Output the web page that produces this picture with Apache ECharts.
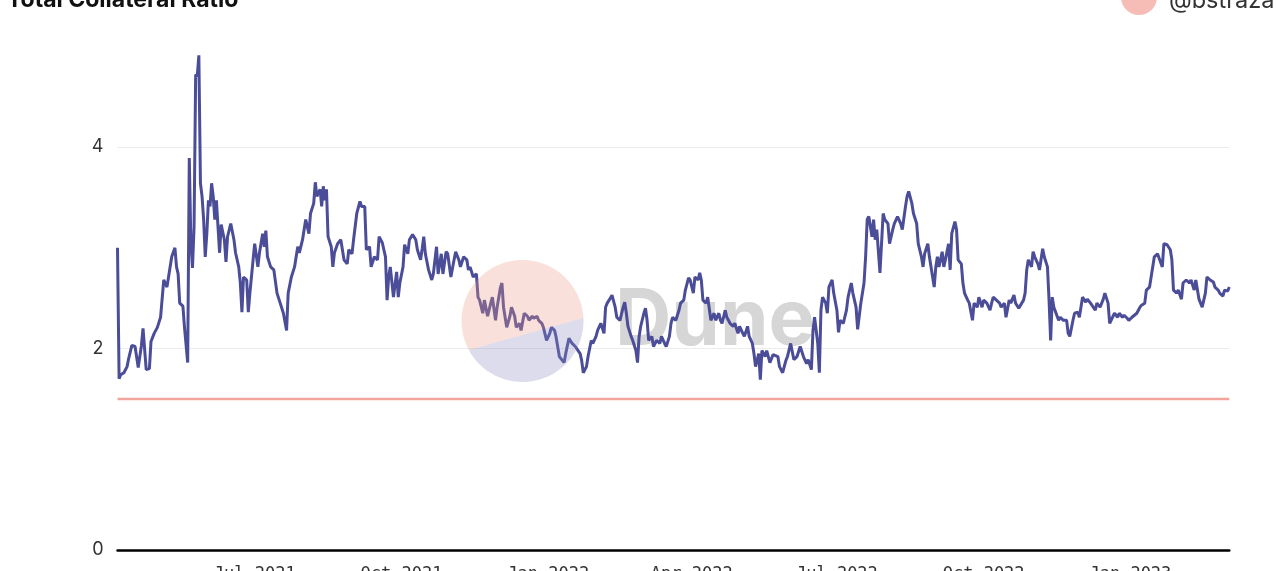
<!DOCTYPE html>
<html>
<head>
<meta charset="utf-8">
<script src="https://cdn.jsdelivr.net/npm/echarts@6/dist/echarts.min.js"></script>
<style>
  html, body { margin: 0; padding: 0; background: #fff; }
  #chart { width: 1280px; height: 571px; }
</style>
</head>
<body>
<div id="chart"></div>
<script>
// ---- data ----
const START_DATE = '2021-04-06';
const days = [0,1,2,4,6,7,9,11,13,15,16,18,20,21,23,25,27,29,31,32,34,36,37,38,39,41,42,44,45,46,47,48,49,50,51,52,53,54,55,56,57,58,59,60,61,62,63,64,65,67,68,69,71,73,74,76,77,78,79,81,82,83,85,86,88,89,91,92,93,94,96,98,100,102,104,106,107,109,111,113,114,116,118,120,121,123,124,125,127,128,129,130,131,132,134,135,136,138,140,142,144,145,147,148,150,152,153,155,156,158,159,161,163,164,166,168,169,170,171,173,175,176,177,179,180,182,183,185,187,188,190,191,192,193,195,197,198,200,201,203,204,206,207,209,211,212,214,215,217,219,220,221,223,225,226,227,229,230,232,234,235,237,238,240,241,242,244,246,247,249,250,252,253,255,257,258,260,261,263,264,266,267,269,271,272,274,275,277,280,281,283,285,287,290,291,292,294,295,297,298,300,301,303,305,306,307,309,310,312,313,315,317,318,319,320,322,323,325,326,327,328,330,331,332,333,335,336,338,340,341,343,344,346,347,348,350,352,353,355,356,358,359,361,362,364,365,366,367,369,370,372,374,375,377,378,379,381,382,384,386,387,389,390,392,393,395,396,398,399,400,402,403,404,406,407,409,411,412,414,415,417,419,420,422,424,426,428,430,432,433,435,436,437,439,440,441,442,444,445,446,448,449,451,452,453,455,457,458,460,461,463,464,466,468,469,470,471,473,474,475,476,478,480,481,483,484,486,487,489,491,492,494,495,496,498,499,501,502,504,505,506,508,509,511,512,513,514,515,517,518,519,521,522,523,525,526,527,529,530,531,533,534,536,537,539,540,542,543,545,547,548,549,551,553,554,556,557,559,560,562,563,565,568,569,570,571,573,574,575,577,578,580,581,583,584,585,586,587,588,590,591,593,595,596,597,599,600,602,603,605,607,608,610,611,613,614,616,618,619,621,622,623,625,627,628,630,631,633,634,636,637,639,641,642,644,645,647,648,650,652,653,655,656,658,660,661,662,664,665,667,668,670,672,673,675,676,678,679,680,682,683,685,687,688,690,691,693,694,696,697];
const ratio = [3.00,1.70,1.74,1.76,1.82,1.90,2.03,2.02,1.81,2.03,2.20,1.79,1.80,2.07,2.15,2.21,2.31,2.68,2.61,2.71,2.91,3.00,2.81,2.74,2.45,2.42,2.21,1.86,3.89,3.05,2.80,3.21,4.72,4.70,4.91,3.64,3.51,3.28,2.91,3.14,3.47,3.41,3.64,3.51,3.28,3.47,3.21,2.95,3.23,3.08,2.86,3.11,3.24,3.08,2.95,2.81,2.65,2.36,2.71,2.68,2.36,2.55,2.88,3.04,2.81,2.95,3.14,3.01,3.17,2.91,2.81,2.78,2.55,2.45,2.35,2.18,2.55,2.71,2.81,3.01,2.95,3.08,3.28,3.14,3.34,3.44,3.65,3.51,3.58,3.41,3.61,3.47,3.58,3.11,3.01,2.81,2.95,3.04,3.08,2.88,2.84,2.98,2.94,3.08,3.34,3.46,3.41,3.41,2.98,3.01,2.81,2.91,2.88,3.11,3.05,2.91,2.48,2.71,2.81,2.51,2.76,2.51,2.65,2.81,3.03,2.94,3.08,3.13,3.08,2.98,2.88,2.99,3.11,2.94,2.78,2.68,2.74,3.01,2.74,2.94,2.74,2.96,2.94,2.71,2.88,2.96,2.88,2.81,2.91,2.88,2.78,2.81,2.71,2.74,2.51,2.48,2.35,2.48,2.32,2.45,2.51,2.28,2.41,2.60,2.65,2.41,2.21,2.32,2.41,2.32,2.21,2.25,2.18,2.35,2.32,2.28,2.32,2.30,2.32,2.28,2.25,2.21,2.08,2.15,2.21,2.18,2.11,1.92,1.86,1.95,2.10,2.05,2.02,1.95,1.88,1.76,1.82,1.92,2.08,2.05,2.12,2.18,2.25,2.15,2.41,2.45,2.50,2.53,2.41,2.31,2.28,2.41,2.46,2.35,2.22,2.12,2.08,1.98,1.86,2.12,2.22,2.35,2.40,2.28,2.08,2.12,2.02,2.08,2.05,2.12,2.05,2.02,2.12,2.25,2.31,2.28,2.38,2.45,2.48,2.58,2.70,2.68,2.55,2.71,2.68,2.75,2.68,2.48,2.45,2.51,2.28,2.35,2.28,2.35,2.28,2.25,2.38,2.31,2.25,2.22,2.25,2.15,2.22,2.15,2.12,2.22,2.12,2.05,1.95,1.82,1.95,1.69,1.98,1.92,1.98,1.86,1.94,1.95,1.92,1.82,1.76,1.88,1.92,2.05,1.89,1.92,2.02,1.92,1.85,1.89,1.79,2.18,2.31,2.05,1.76,2.38,2.51,2.45,2.35,2.61,2.68,2.55,2.38,2.16,2.28,2.25,2.38,2.51,2.65,2.55,2.41,2.19,2.45,2.65,2.91,3.28,3.31,3.11,3.28,3.08,3.18,2.75,3.34,3.28,3.24,3.04,3.18,3.24,3.31,3.24,3.18,3.41,3.51,3.56,3.44,3.34,3.24,3.04,2.91,2.81,2.94,3.04,2.91,2.71,2.61,2.81,2.91,2.81,2.96,2.81,2.88,3.04,2.78,3.14,3.26,3.18,2.88,2.84,2.65,2.55,2.48,2.45,2.28,2.45,2.41,2.51,2.41,2.48,2.45,2.38,2.45,2.51,2.48,2.45,2.41,2.45,2.31,2.48,2.45,2.53,2.45,2.40,2.48,2.55,2.78,2.88,2.81,2.96,2.91,2.84,2.78,2.99,2.91,2.81,2.48,2.08,2.51,2.41,2.41,2.28,2.31,2.28,2.28,2.15,2.12,2.28,2.35,2.36,2.31,2.51,2.46,2.49,2.45,2.46,2.38,2.45,2.41,2.49,2.55,2.45,2.25,2.25,2.35,2.31,2.35,2.31,2.33,2.30,2.28,2.31,2.30,2.35,2.41,2.43,2.45,2.58,2.61,2.71,2.91,2.94,2.94,2.81,3.04,3.03,2.98,2.88,2.58,2.55,2.58,2.49,2.65,2.68,2.65,2.68,2.58,2.68,2.49,2.45,2.41,2.55,2.71,2.68,2.66,2.61,2.58,2.55,2.52,2.58,2.57,2.61];
const liquidationRatio = 1.5;
const tickDates = ['2021-07-01','2021-10-01','2022-01-01','2022-04-01','2022-07-01','2022-10-01','2023-01-01'];
const tickLabels = ['Jul 2021','Oct 2021','Jan 2022','Apr 2022','Jul 2022','Oct 2022','Jan 2023'];
const yTicks = [0, 2, 4];

// ---- build ----
const DAY = 86400000;
const t0 = Date.parse(START_DATE + 'T00:00:00Z');
const tickDays = tickDates.map(d => Math.round((Date.parse(d + 'T00:00:00Z') - t0) / DAY));
const labelByDay = {};
tickDays.forEach((d, i) => { labelByDay[d] = tickLabels[i]; });
const xMax = days[days.length - 1];
const lineData = days.map((d, i) => [d, ratio[i]]);

// watermark shapes
const cx = 522.5, cy = 321, r = 61;
function arcPts(a1, a2) {
  const pts = [];
  for (let i = 0; i <= 48; i++) {
    const a = (a1 + (a2 - a1) * i / 48) * Math.PI / 180;
    pts.push([cx + r * Math.cos(a), cy + r * Math.sin(a)]);
  }
  return pts;
}

const chart = echarts.init(document.getElementById('chart'), null, { renderer: 'canvas' });
chart.setOption({
  animation: false,
  backgroundColor: '#ffffff',
  grid: { left: 117.5, right: 50.7, top: 46.25, bottom: 21, containLabel: false, outerBoundsMode: 'none' },
  xAxis: {
    type: 'value',
    min: 0,
    max: xMax,
    axisLine: { show: true, lineStyle: { color: '#000', width: 2.5 } },
    axisTick: { show: false },
    splitLine: { show: false },
    axisLabel: {
      customValues: tickDays,
      formatter: v => labelByDay[v] || '',
      fontFamily: 'DejaVu Sans Mono',
      fontSize: 17,
      color: '#333',
      margin: 16
    }
  },
  yAxis: {
    type: 'value',
    min: 0,
    max: 5,
    interval: 2,
    axisLine: { show: false },
    axisTick: { show: false },
    splitLine: { show: true, showMaxLine: false, lineStyle: { color: '#ececec', width: 1 } },
    axisLabel: {
      showMaxLabel: false,
      formatter: v => (yTicks.indexOf(v) >= 0 ? String(v) : ''),
      fontFamily: 'Inter',
      fontSize: 18,
      color: '#333',
      margin: 14
    }
  },
  series: [
    {
      name: 'Liquidation Ratio',
      type: 'line',
      data: [[0, liquidationRatio], [xMax, liquidationRatio]],
      showSymbol: false,
      lineStyle: { color: '#f2a59c', width: 2.5 },
      z: 2
    },
    {
      name: 'Total Collateral Ratio',
      type: 'line',
      data: lineData,
      showSymbol: false,
      lineStyle: { color: '#4b4d98', width: 3 },
      z: 3
    }
  ],
  graphic: [
    { type: 'text', x: 615, y: 322, z: 0, silent: true,
      style: { text: 'Dune', fontSize: 78, fontWeight: 'bold', fontFamily: 'Inter', fill: '#d6d6d6', verticalAlign: 'middle' } },
    { type: 'polygon', z: 50, silent: true, shape: { points: arcPts(151.7, 357.2) },
      style: { fill: 'rgba(235,152,132,0.3)' } },
    { type: 'polygon', z: 50, silent: true, shape: { points: arcPts(-2.8, 151.7) },
      style: { fill: 'rgba(138,138,192,0.3)' } },
    { type: 'text', x: 7, y: 0, z: 60,
      style: { text: 'Total Collateral Ratio', fontSize: 23, fontWeight: 'bold', fontFamily: 'Inter', fill: '#111', verticalAlign: 'middle' } },
    { type: 'circle', z: 60, shape: { cx: 1139, cy: -3, r: 18 }, style: { fill: '#f5bdb5' } },
    { type: 'text', x: 1169, y: 1, z: 60,
      style: { text: '@bstraza', fontSize: 23.5, fontFamily: 'Inter', fill: '#333', verticalAlign: 'middle' } }
  ]
});
</script>
</body>
</html>
